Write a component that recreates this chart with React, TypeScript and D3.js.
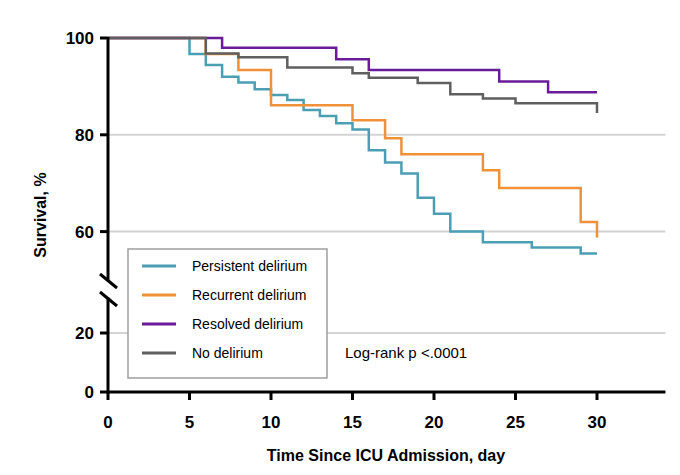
import React from "react";
import * as d3 from "d3";

const seriesNames = ["Persistent delirium", "Recurrent delirium", "Resolved delirium", "No delirium"];
const seriesColors = ["#4a9fb5", "#f0913a", "#6a1b9a", "#5f5f5f"];
const persistentT = [0, 5, 6, 7, 8, 9, 10, 11, 12, 13, 14, 15, 16, 17, 18, 19, 20, 21, 23, 26, 29, 30];
const persistentV = [100, 96.7, 94.4, 92, 90.8, 89.4, 88.2, 87.2, 85.1, 83.9, 82.4, 81.1, 76.8, 74.3, 72, 67, 63.7, 60, 57.8, 56.7, 55.5, 55.5];
const recurrentT = [0, 6, 8, 10, 15, 17, 18, 23, 24, 29, 30];
const recurrentV = [100, 96.7, 93.4, 86.1, 83, 79.3, 76, 72.7, 69, 62, 58.8];
const resolvedT = [0, 7, 14, 16, 24, 27, 30];
const resolvedV = [100, 98, 95.6, 93.4, 91, 88.8, 88.8];
const noneT = [0, 6, 8, 11, 15, 16, 19, 21, 23, 25, 30];
const noneV = [100, 96.8, 96, 93.9, 92.7, 91.8, 90.7, 88.4, 87.5, 86.5, 84.5];
const upperTicks = [100, 80, 60];
const lowerTicks = [20, 0];
const xTicks = [0, 5, 10, 15, 20, 25, 30];

export default function App() {
  const x = d3.scaleLinear().domain([0, 30]).range([108, 597]);
  const yU = d3.scaleLinear().domain([50, 100]).range([280, 38]);
  const yL = d3.scaleLinear().domain([0, 32]).range([392, 297.6]);
  const xEnd = x(34.2);
  const series = [
    [persistentT, persistentV],
    [recurrentT, recurrentV],
    [resolvedT, resolvedV],
    [noneT, noneV],
  ];
  const line = d3.line<[number, number]>().x((d) => x(d[0])).y((d) => yU(d[1])).curve(d3.curveStepAfter);
  const font = "Arial, 'Liberation Sans', sans-serif";
  return (
    <svg width={680} height={475} style={{ position: "absolute", left: 0, top: 0, background: "#fff" }} fontFamily={font}>
      {upperTicks.filter((t) => t < 100).map((t) => (
        <line key={"gu" + t} x1={108} x2={xEnd} y1={yU(t)} y2={yU(t)} stroke="#d3d3d3" strokeWidth={2} />
      ))}
      {lowerTicks.filter((t) => t > 0).map((t) => (
        <line key={"gl" + t} x1={108} x2={xEnd} y1={yL(t)} y2={yL(t)} stroke="#d3d3d3" strokeWidth={2} />
      ))}
      {series.map((s, i) => (
        <path key={i} d={line(s[0].map((t, j) => [t, s[1][j]] as [number, number])) || ""} fill="none" stroke={seriesColors[i]} strokeWidth={2.5} />
      ))}
      {/* y axis */}
      <line x1={108} x2={108} y1={37} y2={yU(50)} stroke="#000" strokeWidth={3} />
      <line x1={108} x2={108} y1={yL(32)} y2={393.5} stroke="#000" strokeWidth={3} />
      <line x1={100} x2={117} y1={274} y2={288} stroke="#000" strokeWidth={3} />
      <line x1={100} x2={117} y1={292} y2={306} stroke="#000" strokeWidth={3} />
      {upperTicks.map((t) => (
        <g key={"tu" + t}>
          <line x1={100} x2={108} y1={yU(t)} y2={yU(t)} stroke="#000" strokeWidth={3} />
          <text x={94} y={yU(t)} dy="0.35em" textAnchor="end" fontSize={17} fontWeight="bold">{t}</text>
        </g>
      ))}
      {lowerTicks.map((t) => (
        <g key={"tl" + t}>
          <line x1={100} x2={108} y1={yL(t)} y2={yL(t)} stroke="#000" strokeWidth={3} />
          <text x={94} y={yL(t)} dy="0.35em" textAnchor="end" fontSize={17} fontWeight="bold">{t}</text>
        </g>
      ))}
      {/* x axis */}
      <line x1={106.5} x2={xEnd} y1={392} y2={392} stroke="#000" strokeWidth={3} />
      {xTicks.map((t) => (
        <g key={"x" + t}>
          <line x1={x(t)} x2={x(t)} y1={392} y2={400} stroke="#000" strokeWidth={3} />
          <text x={x(t)} y={422} dy="0.35em" textAnchor="middle" fontSize={17} fontWeight="bold">{t}</text>
        </g>
      ))}
      <text x={386} y={455} dy="0.35em" textAnchor="middle" fontSize={16} fontWeight="bold">Time Since ICU Admission, day</text>
      <text transform="translate(40,215) rotate(-90)" textAnchor="middle" dy="0.35em" fontSize={16} fontWeight="bold">Survival, %</text>
      {/* legend */}
      <rect x={128} y={249} width={199} height={129} fill="#fff" stroke="#9e9e9e" strokeWidth={1.5} />
      {seriesNames.map((n, i) => (
        <g key={n}>
          <line x1={142} x2={176} y1={266 + i * 29} y2={266 + i * 29} stroke={seriesColors[i]} strokeWidth={3} />
          <text x={192} y={266 + i * 29} dy="0.35em" fontSize={14}>{n}</text>
        </g>
      ))}
      <text x={345} y={353} dy="0.35em" fontSize={15}>Log-rank p &lt;.0001</text>
    </svg>
  );
}
